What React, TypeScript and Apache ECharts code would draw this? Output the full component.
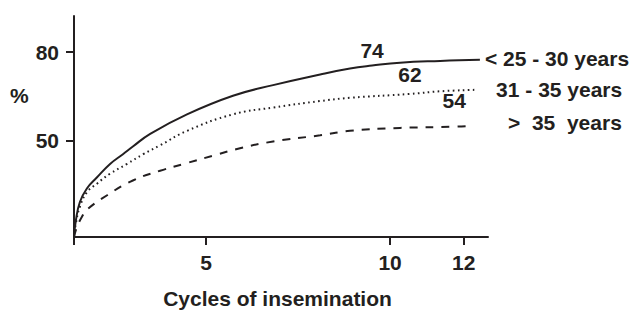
import React, { useEffect, useRef } from 'react';
import * as echarts from 'echarts';

// Series names (shown as end labels)
const seriesNames = ['< 25 - 30 years', '31 - 35 years', '>  35  years'];

// Cumulative pregnancy curves (x = cycles, y = %)
const solidX = [1.41, 1.46, 1.57, 1.76, 2.03, 2.39, 2.74, 3.01, 3.48, 4.48, 5.73, 6.82, 8.1, 8.91, 9.51, 10.27, 11.36, 12.44];
const solidY = [17.4, 22.9, 29.2, 33.8, 37.5, 42.1, 45.4, 48.0, 52.3, 58.9, 65.2, 68.8, 72.4, 74.4, 75.4, 76.4, 77.0, 77.4];

const dottedX = [1.41, 1.465, 1.57, 1.76, 2.04, 2.39, 2.85, 3.29, 3.75, 4.48, 5.73, 6.82, 8.1, 8.91, 10.54, 11.36, 12.31];
const dottedY = [17.4, 22.3, 27.6, 32.5, 35.5, 38.8, 42.1, 45.4, 48.4, 53.3, 58.9, 61.2, 63.4, 64.5, 65.8, 66.7, 67.2];

const dashedX = [1.41, 1.49, 1.63, 1.76, 2.31, 3.01, 3.75, 4.48, 5.19, 5.92, 6.82, 8.1, 8.91, 10.27, 11.74, 12.17];
const dashedY = [17.4, 20.7, 24.3, 26.6, 31.5, 36.5, 39.8, 42.4, 44.9, 47.4, 49.7, 51.8, 53.3, 54.3, 54.7, 55.0];

// Annotated values and the data index they sit on
const annotations = ['74', '62', '54'];
const annotationIndex = [14, 14, 14];

// Axis ticks
const xTickLabels = [5, 10, 12];
const yTickLabels = [50, 80];
const xMin = 1.41;
const xMax = 12.66;
const yMin = 17.36;
const yMax = 92.2;

const INK = '#231f20';
const FONT = '"Liberation Sans", Arial, Helvetica, sans-serif';
const FS = 21;

export default function App() {
  const ref = useRef<HTMLDivElement>(null);

  useEffect(() => {
    if (!ref.current) return;
    const chart = echarts.init(ref.current, undefined, { renderer: 'svg' });

    const xs = [solidX, dottedX, dashedX];
    const ys = [solidY, dottedY, dashedY];
    const lineTypes: any[] = ['solid', [1.6, 3.4], [8, 8]];
    const endDistances = [5, 21, 38];
    const endOffsets = [[0, -1], [0, 0], [0, -3]];
    const annotDistances = [4.5, 8, 15];

    const series = xs.map((xArr, k) => {
      const data = xArr.map((x, i) => [x, ys[k][i]]);
      const ai = annotationIndex[k];
      return {
        type: 'line',
        name: seriesNames[k],
        data,
        showSymbol: false,
        smooth: 0.45,
        clip: false,
        lineStyle: { color: INK, width: 2, type: lineTypes[k] },
        endLabel: {
          show: true,
          formatter: '{a}',
          distance: endDistances[k],
          offset: endOffsets[k],
          color: INK,
          fontFamily: FONT,
          fontWeight: 'bold',
          fontSize: FS,
        },
        markPoint: {
          symbol: 'circle',
          symbolSize: 1,
          itemStyle: { color: 'rgba(0,0,0,0)' },
          data: [{ coord: data[ai], value: annotations[k] }],
          label: {
            show: true,
            position: 'top',
            distance: annotDistances[k],
            formatter: '{c}',
            color: INK,
            fontFamily: FONT,
            fontWeight: 'bold',
            fontSize: FS,
          },
        },
      };
    });

    chart.setOption({
      animation: false,
      grid: { left: 74, top: 16, width: 414, height: 227, containLabel: false },
      xAxis: {
        type: 'value',
        min: xMin,
        max: xMax,
        name: 'Cycles of insemination',
        nameLocation: 'middle',
        nameGap: 51,
        nameTextStyle: { color: INK, fontFamily: FONT, fontWeight: 'bold', fontSize: FS, padding: [0, 7, 0, 0] },
        splitLine: { show: false },
        axisLine: { show: true, onZero: false, lineStyle: { color: INK, width: 2 } },
        axisTick: { show: true, length: 8, customValues: [xMin, ...xTickLabels], lineStyle: { color: INK, width: 2 } },
        axisLabel: { show: true, customValues: xTickLabels, margin: 15, color: INK, fontFamily: FONT, fontWeight: 'bold', fontSize: FS },
      },
      yAxis: {
        type: 'value',
        min: yMin,
        max: yMax,
        splitLine: { show: false },
        axisLine: { show: true, onZero: false, lineStyle: { color: INK, width: 2 } },
        axisTick: { show: true, length: 8, customValues: yTickLabels, lineStyle: { color: INK, width: 2 } },
        axisLabel: { show: true, customValues: yTickLabels, margin: 15, color: INK, fontFamily: FONT, fontWeight: 'bold', fontSize: FS },
      },
      graphic: [
        {
          type: 'text',
          left: 10,
          top: 85,
          style: { text: '%', fill: INK, font: 'bold ' + FS + 'px ' + FONT },
        },
      ],
      series,
    });

    return () => chart.dispose();
  }, []);

  return (
    <div
      ref={ref}
      style={{ position: 'fixed', left: 0, top: 0, width: 632, height: 314, background: '#fff' }}
    />
  );
}
